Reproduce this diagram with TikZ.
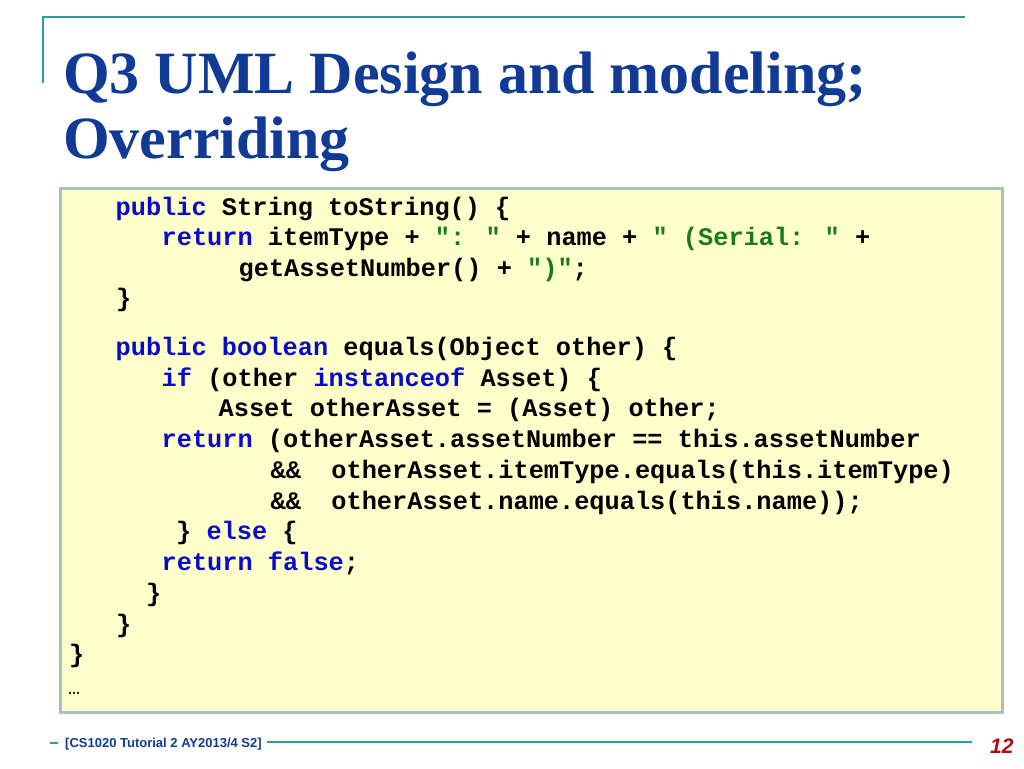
\documentclass[tikz,border=0pt]{standalone}
\usepackage{fontspec}
\setmainfont{Liberation Serif}
\newfontfamily\codefont{Liberation Mono}
\newfontfamily\footfont{Liberation Sans}
\definecolor{titleblue}{HTML}{0F3A96}
\definecolor{teal}{HTML}{2E9C9C}
\definecolor{boxfill}{HTML}{FFFFCC}
\definecolor{boxedge}{HTML}{A9C1C1}
\definecolor{kwblue}{HTML}{0A0ACC}
\definecolor{strgreen}{HTML}{1A7A1A}
\definecolor{numred}{HTML}{A80E12}
\newcommand{\jkw}[1]{{\color{kwblue}#1}}
\newcommand{\jstr}[1]{{\color{strgreen}#1}}
\tikzset{
  titletext/.style={anchor=base west, inner sep=0, text=titleblue, font=\bfseries\fontsize{60}{62}\selectfont},
  codeline/.style={anchor=base west, inner sep=0, text=black, font=\codefont\bfseries\fontsize{25.3}{30}\selectfont},
  rule/.style={draw=teal, line width=2pt},
}
\begin{document}
\begin{tikzpicture}[x=1pt, y=-1pt]
\useasboundingbox (0,0) rectangle (1024,768);
% header rules
\coordinate (hl) at (43,17);
\coordinate (hr) at (965,17);
\coordinate (hb) at (43,83);
\draw[rule] (hr) -- (hl) -- (hb);
% title
\node[titletext] (t1) at (63,93) {Q3 UML Design and modeling;};
\node[titletext] (t2) at (63,158) {Overriding};
% code box
\node[draw=boxedge, line width=2.5pt, fill=boxfill, minimum width=942pt, minimum height=524pt, inner sep=0, anchor=north west] (box) at (59,187) {};
% code lines
\node[codeline] (l1) at (115.5,215) {\jkw{public} String toString() \{};
\node[codeline] (l2) at (161.5,245.5) {\jkw{return} itemType + \jstr{": "} + name + \jstr{" (Serial: "} +};
\node[codeline] (l3) at (238.5,276) {getAssetNumber() + \jstr{")"};};
\node[codeline] (l4) at (116,306.5) {\}};
\node[codeline] (l5) at (115.5,355.5) {\jkw{public} \jkw{boolean} equals(Object other) \{};
\node[codeline] (l6) at (161.5,386) {\jkw{if} (other \jkw{instanceof} Asset) \{};
\node[codeline] (l7) at (218.5,416.5) {Asset otherAsset = (Asset) other;};
\node[codeline] (l8) at (161.5,447) {\jkw{return} (otherAsset.assetNumber == this.assetNumber};
\node[codeline] (l9) at (270.5,478) {\&\&~~otherAsset.itemType.equals(this.itemType)};
\node[codeline] (l10) at (270.5,509) {\&\&~~otherAsset.name.equals(this.name));};
\node[codeline] (l11) at (176,539.5) {\} \jkw{else} \{};
\node[codeline] (l12) at (161.5,570) {\jkw{return} \jkw{false};};
\node[codeline] (l13) at (146,601) {\}};
\node[codeline] (l14) at (116,632) {\}};
\node[codeline] (l15) at (69,662) {\}};
\node[codeline, font=\codefont\fontsize{20}{24}\selectfont] (l16) at (68,694) {…};
% footer
\coordinate (d1) at (50,743);
\coordinate (d2) at (58,743);
\draw[rule] (d1) -- (d2);
\node[anchor=base west, inner sep=0, text=titleblue, font=\footfont\bfseries\fontsize{13}{15}\selectfont] (foot) at (65,747.5) {[CS1020 Tutorial 2 AY2013/4 S2]};
\coordinate (f2) at (972,742);
\draw[rule] ([xshift=5pt]foot.east |- f2) -- (f2);
\node[anchor=base west, inner sep=0, text=numred, font=\footfont\bfseries\itshape\fontsize{21}{24}\selectfont] (num) at (990,753) {12};
\end{tikzpicture}
\end{document}
